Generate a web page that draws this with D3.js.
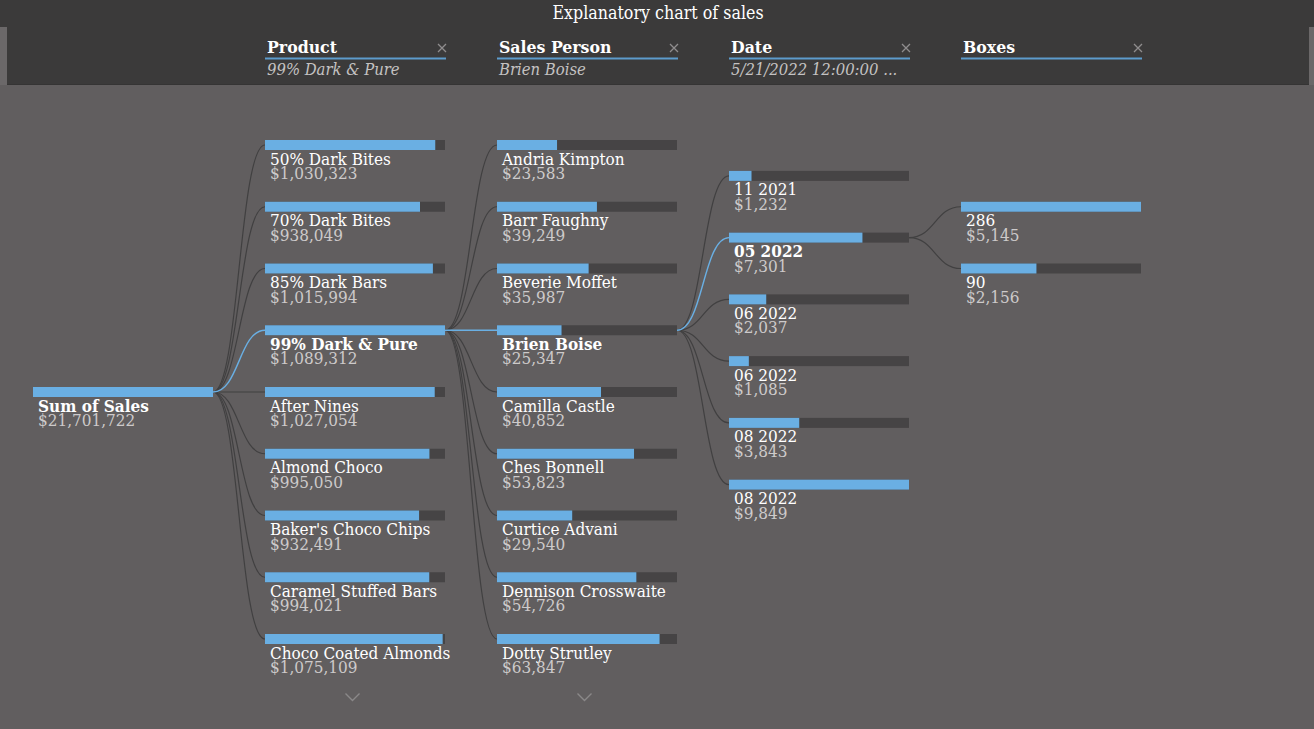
<!DOCTYPE html>
<html>
<head>
<meta charset="utf-8">
<script src="https://cdn.jsdelivr.net/npm/d3@7"></script>
<style>
  html, body { margin: 0; padding: 0; background: #615e5f; }
  svg { display: block; font-family: "DejaVu Serif Condensed", "DejaVu Serif", serif; font-stretch: condensed; }
</style>
</head>
<body>
<svg id="chart" width="1314" height="729"></svg>
<script>
// ---------------- DATA ----------------
const chartTitle = "Explanatory chart of sales";
const levelNames = ["Product", "Sales Person", "Date", "Boxes"];
const levelSelections = ["99% Dark & Pure", "Brien Boise", "5/21/2022 12:00:00 ...", ""];

const rootLabel = "Sum of Sales";
const rootValue = 21701722;

const products = ["50% Dark Bites", "70% Dark Bites", "85% Dark Bars", "99% Dark & Pure", "After Nines",
  "Almond Choco", "Baker's Choco Chips", "Caramel Stuffed Bars", "Choco Coated Almonds"];
const productSales = [1030323, 938049, 1015994, 1089312, 1027054, 995050, 932491, 994021, 1075109];

const salesPersons = ["Andria Kimpton", "Barr Faughny", "Beverie Moffet", "Brien Boise", "Camilla Castle",
  "Ches Bonnell", "Curtice Advani", "Dennison Crosswaite", "Dotty Strutley"];
const salesPersonSales = [23583, 39249, 35987, 25347, 40852, 53823, 29540, 54726, 63847];

const dates = ["11 2021", "05 2022", "06 2022", "06 2022", "08 2022", "08 2022"];
const dateSales = [1232, 7301, 2037, 1085, 3843, 9849];

const boxes = ["286", "90"];
const boxSales = [5145, 2156];

// maximum of each level (including items scrolled out of view)
const levelMax = [21701722, 1089312, 70700, 9849, 5145];
const selectedIndex = [3, 3, 1, -1];
const hasMore = [true, true, false, false];

// ---------------- CHART ----------------
const W = 1314, H = 729;
const svg = d3.select("#chart");
const BAR_W = 180, BAR_H = 10, MAX_ROWS = 9;
const C = {
  bg: "#615e5f", top: "#3b3a3a", strip: "#6b6869", track: "#464445",
  blue: "#6aafe3", link: "#414041", label: "#ffffff", value: "#cdcaca",
  underline: "#5d9bcc", close: "#8f8d8e", sub: "#c4c2c2", chevron: "#8a8889"
};

const x = d3.scaleLinear().domain([0, 4]).range([33, 961]);
const y = d3.scaleLinear().domain([0, MAX_ROWS - 1]).range([145, 639]);

// header
svg.append("rect").attr("x", 0).attr("y", 0).attr("width", W).attr("height", H).attr("fill", C.bg);
svg.append("rect").attr("x", 0).attr("y", 27).attr("width", W).attr("height", 58).attr("fill", C.strip);
svg.append("rect").attr("x", 0).attr("y", 0).attr("width", W).attr("height", 27).attr("fill", C.top);
svg.append("rect").attr("x", 7).attr("y", 26).attr("width", 1302).attr("height", 59).attr("fill", C.top);
svg.append("rect").attr("x", 7).attr("y", 84).attr("width", 1302).attr("height", 1).attr("fill", "#353434");

svg.append("text").attr("x", 658).attr("y", 19).attr("text-anchor", "middle")
  .attr("fill", "#ffffff").style("font-size", "17.7px").text(chartTitle);

levelNames.forEach((name, i) => {
  const cx = x(i + 1);
  const g = svg.append("g");
  g.append("text").attr("x", cx + 2).attr("y", 53).attr("fill", "#ffffff")
    .style("font-size", "17.5px").style("font-weight", "bold").text(name);
  g.append("rect").attr("x", cx).attr("y", 57.5).attr("width", 181).attr("height", 2).attr("fill", C.underline);
  const cxX = cx + 177, cyX = 48;
  g.append("path").attr("d", `M${cxX - 4},${cyX - 4}L${cxX + 4},${cyX + 4}M${cxX + 4},${cyX - 4}L${cxX - 4},${cyX + 4}`)
    .attr("stroke", C.close).attr("stroke-width", 1.3);
  if (levelSelections[i]) {
    g.append("text").attr("x", cx + 2).attr("y", 75).attr("fill", C.sub)
      .style("font-size", "16.5px").style("font-style", "italic").text(levelSelections[i]);
  }
});

// build levels
const levels = [
  { names: [rootLabel], values: [rootValue] },
  { names: products, values: productSales },
  { names: salesPersons, values: salesPersonSales },
  { names: dates, values: dateSales },
  { names: boxes, values: boxSales }
];

// compute row positions (fractional row index)
let parentRow = (MAX_ROWS - 1) / 2;
levels.forEach((lv, li) => {
  const n = Math.min(lv.names.length, MAX_ROWS);
  let start = li === 0 ? parentRow : parentRow - (n - 1) / 2;
  start = Math.max(0, Math.min(start, MAX_ROWS - n));
  lv.rows = d3.range(n).map(i => start + i);
  lv.selected = li === 0 ? 0 : selectedIndex[li - 1];
  lv.w = d3.scaleLinear().domain([0, levelMax[li]]).range([0, BAR_W]);
  if (lv.selected >= 0) parentRow = lv.rows[lv.selected];
});

const link = d3.linkHorizontal().x(d => d[0]).y(d => d[1]);
const linkG = svg.append("g").attr("fill", "none");
const blueLinks = [];
levels.forEach((lv, li) => {
  if (li === 0) return;
  const parent = levels[li - 1];
  const pr = parent.rows[parent.selected];
  lv.rows.forEach((r, i) => {
    const d = link({ source: [x(li - 1) + BAR_W, y(pr)], target: [x(li), y(r)] });
    if (i === lv.selected) blueLinks.push(d);
    else linkG.append("path").attr("d", d).attr("stroke", C.link).attr("stroke-width", 1.2);
  });
});
blueLinks.forEach(d => linkG.append("path").attr("d", d).attr("stroke", C.blue).attr("stroke-width", 1.4));

levels.forEach((lv, li) => {
  const g = svg.append("g");
  lv.rows.forEach((r, i) => {
    const cy = y(r), x0 = x(li);
    const bold = i === lv.selected;
    g.append("rect").attr("x", x0).attr("y", cy - BAR_H / 2).attr("width", BAR_W).attr("height", BAR_H).attr("fill", C.track);
    g.append("rect").attr("x", x0).attr("y", cy - BAR_H / 2).attr("width", lv.w(lv.values[i])).attr("height", BAR_H).attr("fill", C.blue);
    g.append("text").attr("x", x0 + 5).attr("y", cy + 19.5).attr("fill", C.label)
      .style("font-size", "17px").style("font-weight", bold ? "bold" : "normal").text(lv.names[i]);
    g.append("text").attr("x", x0 + 5).attr("y", cy + 34).attr("fill", C.value)
      .style("font-size", "17px").text("$" + d3.format(",")(lv.values[i]));
  });
  if (li > 0 && hasMore[li - 1]) {
    const cx = x(li) + 87.5, cy = 697.5;
    g.append("path").attr("d", `M${cx - 7},${cy - 4}L${cx},${cy + 3}L${cx + 7},${cy - 4}`)
      .attr("fill", "none").attr("stroke", C.chevron).attr("stroke-width", 1.4);
  }
});
</script>
</body>
</html>
